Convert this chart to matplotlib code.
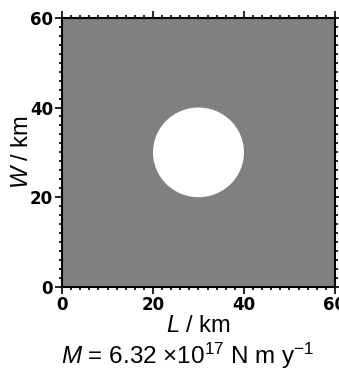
import numpy as np
import matplotlib
matplotlib.use('Agg')
import matplotlib.pyplot as plt
from matplotlib.patches import Circle
from matplotlib.ticker import MultipleLocator

# domain (km) and the circular inclusion
L_range = [0, 60]
W_range = [0, 60]
circle_center = (30, 30)
circle_radius = 10
major_ticks = [0, 20, 40, 60]
moment_text = r'$\it{M}$ = 6.32 $\times$10$^{17}$ N m y$^{\mathregular{-1}}$'

plt.rcParams['font.family'] = ['Liberation Sans', 'DejaVu Sans']
plt.rcParams['mathtext.fontset'] = 'custom'
plt.rcParams['mathtext.rm'] = 'Liberation Sans'
plt.rcParams['mathtext.it'] = 'Liberation Sans:italic'

fig = plt.figure(figsize=(3.39, 3.79), dpi=100)
ax = fig.add_axes([0.183, 0.243, 0.805, 0.71])

ax.set_facecolor('#808080')
ax.add_patch(Circle(circle_center, circle_radius, facecolor='white', edgecolor='none'))
ax.set_xlim(L_range)
ax.set_ylim(W_range)

ax.set_xticks(major_ticks)
ax.set_yticks(major_ticks)
ax.xaxis.set_minor_locator(MultipleLocator(2))
ax.yaxis.set_minor_locator(MultipleLocator(2))
ax.tick_params(which='both', direction='out', top=True, right=True, width=1.2)
ax.tick_params(which='major', length=5, labelsize=12, pad=1.5)
ax.tick_params(which='minor', length=2.5)
for lab in ax.get_xticklabels() + ax.get_yticklabels():
    lab.set_fontfamily('DejaVu Sans')
    lab.set_fontweight('bold')
for s in ax.spines.values():
    s.set_linewidth(1.5)

ax.set_xlabel(r'$\it{L}$ / km', fontsize=17, labelpad=1)
ax.set_ylabel(r'$\it{W}$ / km', fontsize=17, va='center')
ax.yaxis.set_label_coords(-0.147, 0.5)

fig.text(0.555, 0.06, moment_text, fontsize=17.5, ha='center', va='center')

fig.savefig('out.png', dpi=100)
